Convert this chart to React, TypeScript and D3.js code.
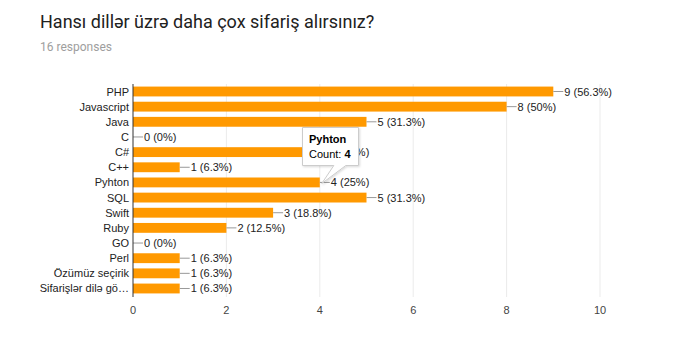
import React from "react";
import * as d3 from "d3";

const categories = ["PHP", "Javascript", "Java", "C", "C#", "C++", "Pyhton", "SQL", "Swift", "Ruby", "GO", "Perl", "Özümüz seçirik", "Sifarişlər dilə gö…"];
const counts = [9, 8, 5, 0, 4, 1, 4, 5, 3, 2, 0, 1, 1, 1];
const percents = ["56.3%", "50%", "31.3%", "0%", "25%", "6.3%", "25%", "31.3%", "18.8%", "12.5%", "0%", "6.3%", "6.3%", "6.3%"];
const xTicks = [0, 2, 4, 6, 8, 10];
const title = "Hansı dillər üzrə daha çox sifariş alırsınız?";
const subtitle = "16 responses";
const tooltipCategory = "Pyhton";

export default function App() {
  const W = 690, H = 356;
  const x = d3.scaleLinear().domain([0, 10]).range([133, 600]);
  const y = d3.scaleBand<string>().domain(categories).range([84, 296]).paddingInner(0.35).paddingOuter(0.17);
  const font = "Arial, 'Liberation Sans', sans-serif";
  const ti = categories.indexOf(tooltipCategory);
  const tv = counts[ti];
  const tipX = x(tv) + 2;
  const tipY = (y(tooltipCategory) as number) - 2;
  return (
    <svg width={W} height={H} style={{ position: "absolute", left: 0, top: 0, background: "#fff" }}>
      <defs>
        <filter id="sh" x="-20%" y="-20%" width="140%" height="140%">
          <feDropShadow dx="1" dy="1" stdDeviation="1" floodColor="#000" floodOpacity="0.15" />
        </filter>
      </defs>
      <rect width={W} height={H} fill="#fff" />
      <text x={40} y={28} fontFamily="Roboto, sans-serif" fontSize={18} fill="#212121">{title}</text>
      <text x={40} y={51} fontFamily="Roboto, sans-serif" fontSize={12} fill="#9e9e9e">{subtitle}</text>
      {xTicks.filter(t => t !== 0).map(t => (
        <line key={t} x1={x(t)} x2={x(t)} y1={84} y2={297} stroke="#ebebeb" strokeWidth={1} />
      ))}
      {xTicks.map(t => (
        <text key={"t" + t} x={x(t)} y={314} textAnchor="middle" fontFamily={font} fontSize={11} fill="#444">{t}</text>
      ))}
      {categories.map((c, i) => {
        const by = y(c) as number;
        const bh = y.bandwidth();
        const cy = by + bh / 2;
        const xe = x(counts[i]);
        return (
          <g key={c}>
            <rect x={x(0)} y={by} width={xe - x(0)} height={bh} fill="#ff9900" />
            <line x1={xe} x2={xe + 10} y1={cy} y2={cy} stroke="#999" strokeWidth={1} />
            <text x={xe + 11} y={cy + 4} fontFamily={font} fontSize={11} fill="#222">{`${counts[i]} (${percents[i]})`}</text>
            <text x={129} y={cy + 4} textAnchor="end" fontFamily={font} fontSize={11} fill="#222">{c}</text>
          </g>
        );
      })}
      <line x1={x(0)} x2={x(0)} y1={84} y2={297} stroke="#333" strokeWidth={1} />
      <g filter="url(#sh)">
        <path d={`M302.5,127.5 H358.5 V165.5 H${tipX + 24} L${tipX},${tipY + 8} L${tipX + 12},165.5 H302.5 Z`} fill="#fff" stroke="#ccc" strokeWidth={1} />
      </g>
      <text x={309} y={143} fontFamily={font} fontSize={11} fontWeight="bold" fill="#000">{tooltipCategory}</text>
      <text x={309} y={158} fontFamily={font} fontSize={11} fill="#000">
        Count: <tspan fontWeight="bold">{tv}</tspan>
      </text>
    </svg>
  );
}
